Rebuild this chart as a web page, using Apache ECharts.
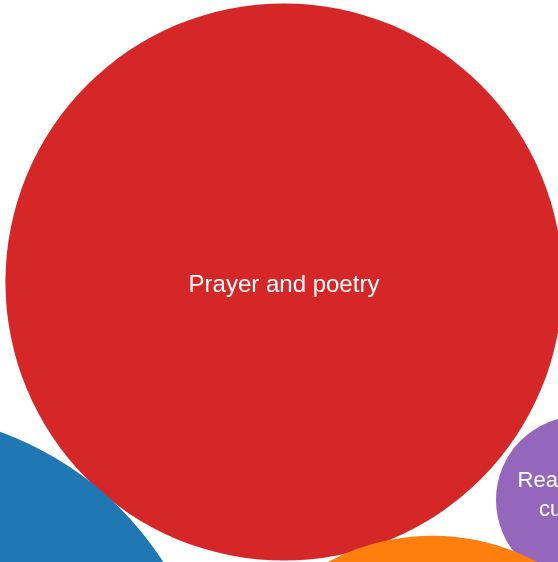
<!DOCTYPE html>
<html>
<head>
<meta charset="utf-8">
<script src="https://cdn.jsdelivr.net/npm/echarts@6/dist/echarts.min.js"></script>
<style>
html, body { margin: 0; padding: 0; background: #ffffff; }
#chart { width: 558px; height: 562px; }
</style>
</head>
<body>
<div id="chart"></div>
<script>
// ---- data ----
const categories = ["Prayer and poetry", "Reading and customs", "Topic (off view) A", "Topic (off view) B"];
const values = [11, 1, 15, 7];            // bubble sizes (area ~ value)
const layoutX = [0, 3.524, -4.696, 1.768]; // packed-layout centres, layout units
const layoutY = [0, -2.595, -5.426, -5.667];

// ---- styles ----
const palette = ['#d62728', '#9467bd', '#1f77b4', '#ff7f0e'];
const MAX_FONT = 24;
const LINE_HEIGHT = 29;
const FONT_FAMILY = '"Liberation Sans", Arial, sans-serif';

const measureCtx = document.createElement('canvas').getContext('2d');
function wrap(text, maxWidth, fontSize) {
  measureCtx.font = fontSize + 'px ' + FONT_FAMILY;
  const words = text.split(' ');
  const lines = [];
  let line = '';
  words.forEach(w => {
    const test = line ? line + ' ' + w : w;
    if (line && measureCtx.measureText(test).width > maxWidth) { lines.push(line); line = w; }
    else line = test;
  });
  if (line) lines.push(line);
  return lines;
}

const seriesData = categories.map((name, i) => ({ name, value: [layoutX[i], layoutY[i], values[i]] }));

const chart = echarts.init(document.getElementById('chart'), null, { renderer: 'canvas' });
chart.setOption({
  animation: false,
  grid: { left: 0, right: 0, top: 0, bottom: 0 },
  xAxis: { type: 'value', min: -3.381, max: 3.262, show: false },
  yAxis: { type: 'value', min: -3.333, max: 3.357, show: false },
  series: [{
    type: 'custom',
    clip: false,
    data: seriesData,
    renderItem: function (params, api) {
      const i = params.dataIndex;
      const c = api.coord([api.value(0), api.value(1)]);
      const r = api.size([Math.sqrt(api.value(2)), 0])[0];
      const fontSize = Math.min(MAX_FONT, Math.round(r / 3.8));
      const lines = wrap(categories[i], r * 1.7, fontSize);
      return {
        type: 'group',
        children: [
          { type: 'circle', shape: { cx: c[0], cy: c[1], r: r }, style: { fill: palette[i] } },
          {
            type: 'text', x: c[0], y: c[1] + 3 - (lines.length - 1) * 7.5,
            style: {
              text: lines.join('\n'),
              fill: '#ffffff',
              fontSize: fontSize,
              fontFamily: FONT_FAMILY,
              align: 'center',
              verticalAlign: 'middle',
              lineHeight: LINE_HEIGHT
            }
          }
        ]
      };
    }
  }]
});
</script>
</body>
</html>
